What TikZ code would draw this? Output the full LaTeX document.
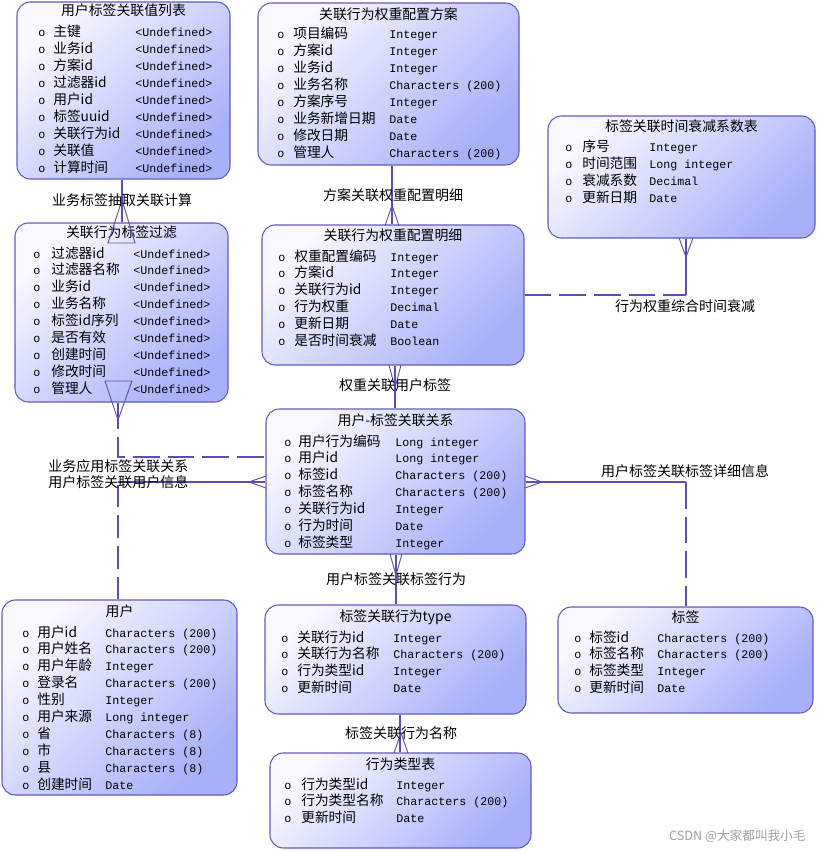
\documentclass[tikz,border=0pt]{standalone}
\usepackage{fontspec}
\setmainfont{Noto Sans CJK SC}
\newfontfamily\monof{Liberation Mono}
\usetikzlibrary{fit}
\definecolor{lc}{RGB}{88,78,182}
\definecolor{bc}{RGB}{100,90,190}
\definecolor{ftop}{RGB}{248,248,255}
\definecolor{fbot}{RGB}{168,176,250}
\definecolor{wm}{RGB}{160,160,160}
\tikzset{
 erbox/.style={draw=bc, line width=0.8pt, rounded corners=10pt, top color=ftop, bottom color=fbot, shading angle=45, inner sep=0pt},
 ttl/.style={inner sep=0pt, anchor=base, font=\fontsize{10.4pt}{12pt}\selectfont},
 nm/.style={inner sep=0pt, anchor=base west, font=\fontsize{10.3pt}{12pt}\selectfont},
 ty/.style={inner sep=0pt, anchor=base west, font=\monof\fontsize{8.75pt}{10pt}\selectfont},
 rel/.style={draw=lc, line width=1.8pt},
 dsh/.style={dash pattern=on 20pt off 6pt},
 crow/.style={draw=lc, line width=0.7pt, line join=miter},
 lbl/.style={inner sep=0pt, anchor=base, font=\fontsize{10.5pt}{12pt}\selectfont},
}
\newcommand\errows[6]{%
  \foreach \rn/\rt [count=\i from 0] in {#6} {
    \node[ty] (#1b\i) at (#2,#5+16.95*\i+5) {o};
    \node[nm] (#1n\i) at (#3,#5+16.95*\i+5) {\rn};
    \node[ty] (#1y\i) at (#4,#5+16.95*\i+5) {\rt};
  }}
\begin{document}
\begin{tikzpicture}[x=0.75pt,y=-0.75pt]
\useasboundingbox[fill=white] (0,0) rectangle (819,852);

% boxes
\node[erbox, fit={(17,2) (230,179)}] (A) {};
\node[erbox, fit={(258,3) (519,165)}] (B) {};
\node[erbox, fit={(15,223) (228,402)}] (C) {};
\node[erbox, fit={(262,225) (524,365)}] (D) {};
\node[erbox, fit={(548,116) (815,238)}] (E) {};
\node[erbox, fit={(266,409) (525,554)}] (F) {};
\node[erbox, fit={(2,600) (237,795)}] (G) {};
\node[erbox, fit={(265,605) (526,714)}] (H) {};
\node[erbox, fit={(270,753) (531,848)}] (I) {};
\node[erbox, fit={(558,607) (813,713)}] (J) {};

% titles
\node[ttl] (At) at (123.5,16) {用户标签关联值列表};
\node[ttl] (Bt) at (388.5,20) {关联行为权重配置方案};
\node[ttl] (Ct) at (121.5,238) {关联行为标签过滤};
\node[ttl] (Dt) at (393,240) {关联行为权重配置明细};
\node[ttl] (Et) at (681.5,132) {标签关联时间衰减系数表};
\node[ttl] (Ft) at (395.5,425) {用户-标签关联关系};
\node[ttl] (Gt) at (119.5,616) {用户};
\node[ttl] (Ht) at (395.5,621) {标签关联行为type};
\node[ttl] (It) at (400.5,769) {行为类型表};
\node[ttl] (Jt) at (685.5,622) {标签};

% rows
\errows{A}{38}{53}{135}{32}{主键/<Undefined>, 业务id/<Undefined>, 方案id/<Undefined>, 过滤器id/<Undefined>, 用户id/<Undefined>, 标签uuid/<Undefined>, 关联行为id/<Undefined>, 关联值/<Undefined>, 计算时间/<Undefined>}
\errows{B}{277}{293}{389}{34}{项目编码/Integer, 方案id/Integer, 业务id/Integer, 业务名称/Characters (200), 方案序号/Integer, 业务新增日期/Date, 修改日期/Date, 管理人/Characters (200)}
\errows{C}{33}{51}{133}{253}{过滤器id/<Undefined>, 过滤器名称/<Undefined>, 业务id/<Undefined>, 业务名称/<Undefined>, 标签id序列/<Undefined>, 是否有效/<Undefined>, 创建时间/<Undefined>, 修改时间/<Undefined>, 管理人/<Undefined>}
\errows{D}{278}{294}{390}{256}{权重配置编码/Integer, 方案id/Integer, 关联行为id/Integer, 行为权重/Decimal, 更新日期/Date, 是否时间衰减/Boolean}
\errows{E}{565}{582}{649}{147}{序号/Integer, 时间范围/Long integer, 衰减系数/Decimal, 更新日期/Date}
\errows{F}{284}{298}{395}{441}{用户行为编码/Long integer, 用户id/Long integer, 标签id/Characters (200), 标签名称/Characters (200), 关联行为id/Integer, 行为时间/Date, 标签类型/Integer}
\errows{G}{22}{37}{105}{632}{用户id/Characters (200), 用户姓名/Characters (200), 用户年龄/Integer, 登录名/Characters (200), 性别/Integer, 用户来源/Long integer, 省/Characters (8), 市/Characters (8), 县/Characters (8), 创建时间/Date}
\errows{H}{281}{297}{393}{637}{关联行为id/Integer, 关联行为名称/Characters (200), 行为类型id/Integer, 更新时间/Date}
\errows{I}{284}{301}{396}{784}{行为类型id/Integer, 行为类型名称/Characters (200), 更新时间/Date}
\errows{J}{574}{589}{657}{637}{标签id/Characters (200), 标签名称/Characters (200), 标签类型/Integer, 更新时间/Date}

% connectors
% A -> C
\draw[rel] (122,0 |- A.south) -- (122,0 |- C.north);
\draw[crow] (108,243) -- (122,200) -- (135,243) -- cycle;
% B -> D
\draw[rel] (392,0 |- B.south) -- (392,0 |- D.north);
\draw[crow] (385,226) -- (392,205) -- (399,226);
% D -> F
\draw[rel] (395,0 |- D.south) -- (395,0 |- F.north);
\draw[crow] (389,365) -- (395,388) -- (401,365);
% D -> E
\draw[rel,dsh] (D.east |- 0,295) -- (686,295);
\draw[rel] (686,295) -- (686,0 |- E.south);
\draw[crow] (679,238) -- (686,257) -- (693,238);
% C -> F
\draw[rel,dsh] (118,0 |- C.south) -- (118,457) -- (F.west |- 0,457);
\draw[crow] (105,381) -- (118,420) -- (132,381) -- cycle;
% G -> F
\draw[rel,dash pattern=on 17pt off 6pt] (118,0 |- G.north) -- (118,482);
\draw[rel] (118,482) -- (F.west |- 0,482);
\draw[crow] (266,476) -- (249,482) -- (266,488);
% F -> J
\draw[rel] (F.east |- 0,482) -- (686,482);
\draw[rel,dsh] (686,482) -- (686,0 |- J.north);
\draw[crow] (525,476) -- (542,482) -- (525,488);
% F -> H
\draw[rel] (396,0 |- F.south) -- (396,0 |- H.north);
\draw[crow] (390,554) -- (396,575) -- (402,554);
% H -> I
\draw[rel] (400,0 |- H.south) -- (400,0 |- I.north);
\draw[crow] (394,753) -- (401,733) -- (408,753);

% relationship labels
\node[lbl] (L1) at (122,205) {业务标签抽取关联计算};
\node[lbl] (L2) at (393,200) {方案关联权重配置明细};
\node[lbl] (L3) at (395,390) {权重关联用户标签};
\node[lbl] (L4) at (685,311) {行为权重综合时间衰减};
\node[lbl,anchor=base west] (L5) at (48,471) {业务应用标签关联关系};
\node[lbl,anchor=base west] (L6) at (48,487) {用户标签关联用户信息};
\node[lbl] (L7) at (685,476) {用户标签关联标签详细信息};
\node[lbl] (L8) at (396,584) {用户标签关联标签行为};
\node[lbl] (L9) at (401,738) {标签关联行为名称};

% watermark
\node[inner sep=0pt, anchor=base east, text=wm, font=\fontsize{9.5pt}{11pt}\selectfont] (WM) at (806,840) {CSDN @大家都叫我小毛};
\end{tikzpicture}
\end{document}
